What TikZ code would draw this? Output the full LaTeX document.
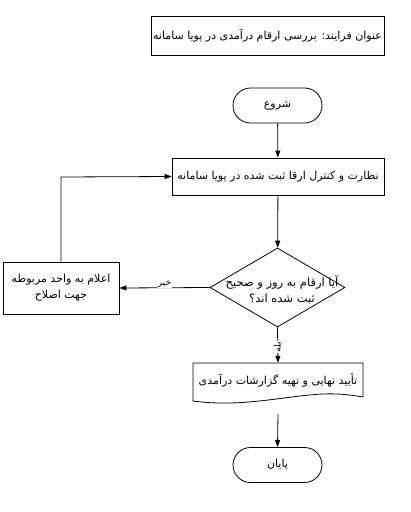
\documentclass[tikz,border=0pt]{standalone}
\usepackage{fontspec}
\usetikzlibrary{shapes.geometric,arrows.meta}
\newfontfamily\fa[Script=Arabic]{DejaVu Sans}
\TeXXeTstate=1
\newcommand{\rl}[1]{\beginR #1\endR}
\begin{document}
\begin{tikzpicture}[x=1pt,y=-1pt,
  every node/.style={font=\fa\fontsize{11}{16}\selectfont},
  box/.style={draw,line width=0.8pt,rectangle,inner sep=0pt},
  term/.style={draw,line width=0.8pt,rectangle,rounded corners=17.5pt,minimum width=89pt,minimum height=35pt,inner sep=0pt},
  arr/.style={line width=0.8pt,-{Triangle[length=7pt,width=5pt]}},
  lbl/.style={fill=white,inner sep=1pt,font=\fa\fontsize{9}{10}\selectfont}]
\useasboundingbox[fill=white] (0,0) rectangle (411,512);
% title
\node[box,minimum width=233pt,minimum height=39pt] (title) at (267.5,35.5) {\rl{عنوان فرایند: بررسی ارقام درآمدی در پویا سامانه}};
% start
\node[term] (start) at (277.5,105.5) {\rl{شروع}};
% process
\node[box,minimum width=212pt,minimum height=37pt] (proc) at (278,176.5) {\rl{نظارت و کنترل ارقا ثبت شده در پویا سامانه}};
% decision
\node[draw,line width=0.8pt,diamond,minimum width=135pt,minimum height=79pt,aspect=1.71,inner sep=0pt] (dec) at (277.5,287.5) {};
\node[align=center,inner sep=0pt,font=\fa\fontsize{11.5}{16}\selectfont] (dectxt) at (282,290) {\rl{آیا ارقام به روز و صحیح}\\\rl{ثبت شده اند؟}};
% left box
\node[box,minimum width=116pt,minimum height=52pt,align=center] (fix) at (61,288) {\rl{اعلام به واحد مربوطه}\\\rl{جهت اصلاح}};
% document
\node[minimum width=170pt,minimum height=34pt,inner sep=0pt] (doc) at (278,380) {\rl{تأیید نهایی و تهیه گزارشات درآمدی}};
\draw[line width=0.8pt] (193,363) -- (363,363) -- (363,397)
  .. controls (340,393) and (325,393) .. (300,396)
  .. controls (260,401) and (230,406) .. (193,401) -- cycle;
% end
\node[term] (end) at (277.5,465) {\rl{پایان}};
% connectors
\draw[arr] (start) -- (proc);
\draw[arr] (proc) -- (dec);
\draw[arr] (dec.west) -- node[lbl,pos=0.5,yshift=4pt] (no) {\rl{خیر}} (fix.east);
\coordinate (bend) at (61,177);
\draw[arr] (fix.north) -- (bend) -- (proc.west);
\draw[arr] (dec.south) -- node[lbl,pos=0.55,rotate=90] (yes) {\rl{بله}} (doc.north);
\draw[arr] (doc.south) ++(0,17) coordinate (docb) -- (end.north);
\end{tikzpicture}
\end{document}
